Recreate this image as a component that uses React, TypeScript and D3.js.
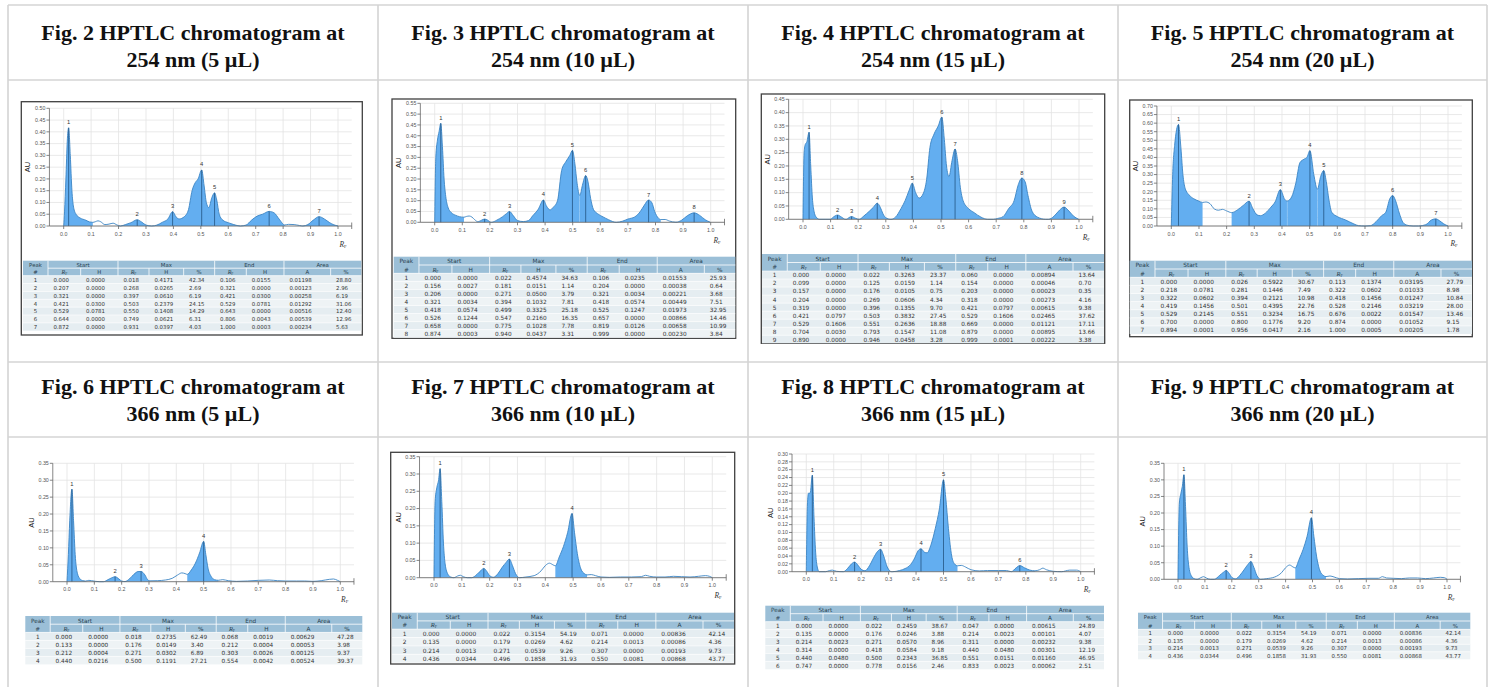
import React from 'react';
import * as d3 from 'd3';

type Pt = [number, number];

// ---------- titles ----------
const titles = [
  ['Fig. 2 HPTLC chromatogram at', '254 nm (5 µL)'],
  ['Fig. 3 HPTLC chromatogram at', '254 nm (10 µL)'],
  ['Fig. 4 HPTLC chromatogram at', '254 nm (15 µL)'],
  ['Fig. 5 HPTLC chromatogram at', '254 nm (20 µL)'],
  ['Fig. 6 HPTLC chromatogram at', '366 nm (5 µL)'],
  ['Fig. 7 HPTLC chromatogram at', '366 nm (10 µL)'],
  ['Fig. 8 HPTLC chromatogram at', '366 nm (15 µL)'],
  ['Fig. 9 HPTLC chromatogram at', '366 nm (20 µL)'],
];

// ---------- y-axis ranges ----------
const yMaxes = [0.5, 0.55, 0.45, 0.7, 0.35, 0.35, 0.3, 0.35];
const ySteps = [0.05, 0.05, 0.05, 0.05, 0.05, 0.05, 0.02, 0.05];

// ---------- densitogram traces [Rf, AU] ----------
const fig2Curve: Pt[] = [[0,0],[0.003,0.06],[0.008,0.2],[0.013,0.36],[0.018,0.4171],[0.024,0.3],[0.03,0.15],[0.036,0.08],[0.045,0.05],[0.06,0.034],[0.08,0.025],[0.095,0.017],[0.106,0.0155],[0.115,0.018],[0.125,0.022],[0.135,0.018],[0.15,0.006],[0.165,0.008],[0.18,0.012],[0.195,0.004],[0.207,0.0],[0.225,0.006],[0.245,0.014],[0.268,0.0265],[0.285,0.016],[0.3,0.004],[0.321,0.0],[0.34,0.004],[0.36,0.016],[0.38,0.03],[0.397,0.061],[0.41,0.038],[0.421,0.03],[0.44,0.04],[0.455,0.07],[0.468,0.15],[0.48,0.185],[0.49,0.2],[0.503,0.2379],[0.512,0.17],[0.52,0.1],[0.529,0.0781],[0.54,0.12],[0.55,0.1408],[0.558,0.11],[0.567,0.05],[0.58,0.025],[0.6,0.014],[0.62,0.006],[0.644,0.0],[0.665,0.004],[0.685,0.025],[0.705,0.042],[0.725,0.05],[0.749,0.0621],[0.768,0.055],[0.785,0.03],[0.806,0.0043],[0.82,0.007],[0.84,0.006],[0.86,0.002],[0.872,0.0],[0.89,0.006],[0.91,0.025],[0.931,0.0397],[0.95,0.03],[0.97,0.014],[0.985,0.005],[1.0,0.0003]];

const fig3Curve: Pt[] = [[0,0],[0.004,0.3],[0.01,0.38],[0.016,0.42],[0.022,0.4574],[0.028,0.35],[0.034,0.2],[0.04,0.12],[0.048,0.07],[0.06,0.045],[0.075,0.033],[0.09,0.026],[0.106,0.0235],[0.115,0.027],[0.125,0.029],[0.135,0.024],[0.145,0.012],[0.156,0.0027],[0.17,0.01],[0.181,0.0151],[0.192,0.01],[0.204,0.0],[0.206,0.0],[0.225,0.01],[0.245,0.025],[0.26,0.04],[0.271,0.05],[0.285,0.03],[0.3,0.008],[0.321,0.0034],[0.34,0.008],[0.355,0.03],[0.375,0.06],[0.394,0.1032],[0.405,0.075],[0.418,0.0574],[0.43,0.07],[0.445,0.1],[0.46,0.24],[0.475,0.28],[0.49,0.31],[0.499,0.3325],[0.508,0.27],[0.516,0.18],[0.525,0.1247],[0.526,0.1244],[0.535,0.17],[0.547,0.216],[0.555,0.19],[0.565,0.11],[0.575,0.06],[0.59,0.04],[0.61,0.025],[0.63,0.012],[0.657,0.0],[0.658,0.0],[0.68,0.005],[0.7,0.015],[0.725,0.025],[0.745,0.05],[0.76,0.08],[0.775,0.1028],[0.787,0.09],[0.797,0.05],[0.81,0.02],[0.819,0.0126],[0.835,0.013],[0.85,0.006],[0.874,0.0003],[0.895,0.01],[0.915,0.03],[0.94,0.0437],[0.96,0.032],[0.98,0.012],[0.999,0.0]];

const fig4Curve: Pt[] = [[0,0],[0.004,0.25],[0.008,0.28],[0.014,0.29],[0.022,0.3263],[0.028,0.2],[0.034,0.08],[0.04,0.03],[0.048,0.008],[0.06,0.0],[0.08,0.0],[0.099,0.0],[0.112,0.01],[0.125,0.0159],[0.14,0.008],[0.154,0.0],[0.157,0.0],[0.166,0.006],[0.176,0.0105],[0.19,0.004],[0.203,0.0],[0.204,0.0],[0.22,0.012],[0.24,0.03],[0.255,0.045],[0.269,0.0606],[0.28,0.045],[0.29,0.02],[0.3,0.006],[0.318,0.0],[0.319,0.0],[0.335,0.008],[0.355,0.04],[0.37,0.07],[0.385,0.11],[0.396,0.1355],[0.408,0.1],[0.421,0.0797],[0.435,0.095],[0.448,0.15],[0.46,0.27],[0.475,0.32],[0.49,0.35],[0.503,0.3832],[0.512,0.3],[0.52,0.2],[0.529,0.1606],[0.54,0.22],[0.551,0.2636],[0.56,0.22],[0.57,0.12],[0.58,0.07],[0.6,0.04],[0.62,0.025],[0.645,0.008],[0.669,0.0],[0.69,0.0],[0.704,0.003],[0.725,0.01],[0.745,0.04],[0.765,0.07],[0.78,0.13],[0.793,0.1547],[0.805,0.14],[0.815,0.09],[0.83,0.03],[0.85,0.008],[0.879,0.0],[0.89,0.0],[0.91,0.012],[0.93,0.035],[0.946,0.0458],[0.96,0.035],[0.98,0.012],[0.999,0.0001]];

const fig5Curve: Pt[] = [[0,0],[0.005,0.3],[0.012,0.47],[0.026,0.5922],[0.035,0.45],[0.042,0.3],[0.05,0.22],[0.065,0.18],[0.08,0.16],[0.1,0.145],[0.113,0.1374],[0.125,0.14],[0.14,0.13],[0.155,0.1],[0.17,0.092],[0.185,0.097],[0.2,0.088],[0.218,0.0781],[0.24,0.095],[0.26,0.12],[0.281,0.1446],[0.295,0.1],[0.31,0.065],[0.322,0.0602],[0.34,0.075],[0.36,0.11],[0.375,0.14],[0.394,0.2121],[0.41,0.155],[0.419,0.1456],[0.435,0.17],[0.45,0.25],[0.465,0.37],[0.48,0.39],[0.49,0.4],[0.501,0.4395],[0.515,0.3],[0.528,0.2146],[0.54,0.29],[0.551,0.3234],[0.56,0.26],[0.57,0.15],[0.58,0.08],[0.6,0.055],[0.63,0.035],[0.66,0.012],[0.676,0.0022],[0.7,0.0],[0.72,0.002],[0.74,0.025],[0.76,0.06],[0.775,0.08],[0.79,0.16],[0.8,0.1776],[0.81,0.15],[0.825,0.07],[0.84,0.015],[0.86,0.002],[0.874,0.0],[0.894,0.0001],[0.92,0.008],[0.94,0.035],[0.956,0.0417],[0.97,0.03],[0.985,0.012],[1.0,0.0005]];

const fig6Curve: Pt[] = [[0,0],[0.005,0.08],[0.01,0.18],[0.018,0.2735],[0.024,0.18],[0.03,0.08],[0.038,0.025],[0.048,0.008],[0.058,0.003],[0.068,0.0019],[0.08,0.004],[0.09,0.003],[0.105,0.001],[0.12,0.0],[0.133,0.0],[0.15,0.006],[0.165,0.012],[0.176,0.0149],[0.19,0.008],[0.2,0.002],[0.212,0.0004],[0.228,0.008],[0.245,0.022],[0.26,0.03],[0.271,0.0302],[0.285,0.02],[0.295,0.006],[0.303,0.0026],[0.33,0.003],[0.36,0.005],[0.385,0.01],[0.405,0.02],[0.42,0.026],[0.432,0.024],[0.44,0.0216],[0.455,0.035],[0.47,0.055],[0.485,0.085],[0.5,0.1191],[0.508,0.08],[0.516,0.04],[0.528,0.015],[0.54,0.006],[0.554,0.0042],[0.57,0.006],[0.59,0.003],[0.62,0.001],[0.66,0.002],[0.7,0.004],[0.74,0.005],[0.77,0.003],[0.8,0.002],[0.84,0.002],[0.87,0.002],[0.9,0.001],[0.93,0.003],[0.96,0.007],[0.975,0.008],[0.99,0.004],[1.0,0.0]];

const fig7Curve: Pt[] = [[0,0],[0.004,0.22],[0.01,0.26],[0.016,0.28],[0.022,0.3154],[0.028,0.22],[0.034,0.1],[0.04,0.04],[0.05,0.01],[0.06,0.002],[0.071,0.0],[0.085,0.005],[0.095,0.007],[0.105,0.003],[0.12,0.0],[0.135,0.0],[0.155,0.01],[0.17,0.022],[0.179,0.0269],[0.19,0.018],[0.2,0.006],[0.214,0.0013],[0.23,0.012],[0.245,0.03],[0.26,0.045],[0.271,0.0539],[0.282,0.035],[0.293,0.012],[0.307,0.0],[0.33,0.002],[0.36,0.006],[0.385,0.02],[0.4,0.035],[0.415,0.042],[0.428,0.037],[0.436,0.0344],[0.45,0.06],[0.465,0.09],[0.48,0.13],[0.496,0.1858],[0.505,0.13],[0.515,0.07],[0.528,0.025],[0.54,0.012],[0.55,0.0081],[0.565,0.009],[0.58,0.006],[0.6,0.002],[0.63,0.001],[0.67,0.002],[0.71,0.002],[0.745,0.003],[0.76,0.007],[0.775,0.004],[0.8,0.002],[0.83,0.002],[0.86,0.004],[0.89,0.003],[0.92,0.002],[0.95,0.004],[0.975,0.006],[0.99,0.004],[1.0,0.0]];

const fig8Curve: Pt[] = [[0,0],[0.004,0.17],[0.008,0.2],[0.014,0.2],[0.022,0.2459],[0.028,0.14],[0.034,0.05],[0.04,0.012],[0.047,0.0],[0.07,0.0],[0.085,0.003],[0.095,0.004],[0.11,0.001],[0.135,0.0],[0.15,0.008],[0.165,0.02],[0.176,0.0246],[0.19,0.015],[0.2,0.006],[0.214,0.0023],[0.23,0.015],[0.245,0.035],[0.26,0.052],[0.271,0.057],[0.282,0.04],[0.295,0.012],[0.311,0.0],[0.314,0.0],[0.34,0.003],[0.36,0.008],[0.38,0.018],[0.395,0.035],[0.408,0.054],[0.418,0.0584],[0.43,0.05],[0.44,0.048],[0.455,0.07],[0.47,0.11],[0.485,0.16],[0.5,0.2343],[0.508,0.19],[0.518,0.11],[0.53,0.04],[0.54,0.02],[0.551,0.0151],[0.565,0.016],[0.58,0.012],[0.6,0.005],[0.63,0.002],[0.66,0.003],[0.7,0.003],[0.73,0.003],[0.747,0.0],[0.765,0.01],[0.778,0.0156],[0.795,0.01],[0.815,0.004],[0.833,0.0023],[0.85,0.005],[0.862,0.009],[0.875,0.005],[0.9,0.001],[0.93,0.0],[0.96,0.004],[0.985,0.004],[1.0,0.0]];

const fig9Curve: Pt[] = [[0,0],[0.005,0.23],[0.011,0.26],[0.016,0.28],[0.022,0.3154],[0.028,0.22],[0.034,0.1],[0.041,0.035],[0.05,0.01],[0.06,0.002],[0.071,0.0],[0.085,0.005],[0.095,0.008],[0.105,0.004],[0.12,0.0],[0.135,0.0],[0.155,0.012],[0.17,0.022],[0.179,0.0269],[0.19,0.018],[0.2,0.006],[0.214,0.0013],[0.23,0.012],[0.245,0.028],[0.26,0.045],[0.271,0.0539],[0.282,0.036],[0.293,0.012],[0.307,0.0],[0.33,0.002],[0.36,0.007],[0.385,0.02],[0.4,0.035],[0.415,0.043],[0.428,0.037],[0.436,0.0344],[0.45,0.06],[0.465,0.09],[0.48,0.13],[0.496,0.1858],[0.505,0.13],[0.515,0.07],[0.528,0.025],[0.54,0.012],[0.55,0.0081],[0.565,0.01],[0.58,0.007],[0.6,0.002],[0.63,0.001],[0.67,0.002],[0.71,0.003],[0.745,0.003],[0.76,0.008],[0.775,0.004],[0.8,0.003],[0.83,0.002],[0.86,0.004],[0.89,0.004],[0.92,0.002],[0.95,0.004],[0.975,0.006],[0.99,0.005],[1.0,0.0]];

// ---------- peak tables: #, start Rf, start H, max Rf, max H, max %, end Rf, end H, area A, area % ----------
const fig2Peaks = [
  ['1','0.000','0.0000','0.018','0.4171','42.34','0.106','0.0155','0.01198','28.80'],
  ['2','0.207','0.0000','0.268','0.0265','2.69','0.321','0.0000','0.00123','2.96'],
  ['3','0.321','0.0000','0.397','0.0610','6.19','0.421','0.0300','0.00258','6.19'],
  ['4','0.421','0.0300','0.503','0.2379','24.15','0.529','0.0781','0.01292','31.06'],
  ['5','0.529','0.0781','0.550','0.1408','14.29','0.643','0.0000','0.00516','12.40'],
  ['6','0.644','0.0000','0.749','0.0621','6.31','0.806','0.0043','0.00539','12.96'],
  ['7','0.872','0.0000','0.931','0.0397','4.03','1.000','0.0003','0.00234','5.63'],
];
const fig3Peaks = [
  ['1','0.000','0.0000','0.022','0.4574','34.63','0.106','0.0235','0.01553','25.93'],
  ['2','0.156','0.0027','0.181','0.0151','1.14','0.204','0.0000','0.00038','0.64'],
  ['3','0.206','0.0000','0.271','0.0500','3.79','0.321','0.0034','0.00221','3.68'],
  ['4','0.321','0.0034','0.394','0.1032','7.81','0.418','0.0574','0.00449','7.51'],
  ['5','0.418','0.0574','0.499','0.3325','25.18','0.525','0.1247','0.01973','32.95'],
  ['6','0.526','0.1244','0.547','0.2160','16.35','0.657','0.0000','0.00866','14.46'],
  ['7','0.658','0.0000','0.775','0.1028','7.78','0.819','0.0126','0.00658','10.99'],
  ['8','0.874','0.0003','0.940','0.0437','3.31','0.999','0.0000','0.00230','3.84'],
];
const fig4Peaks = [
  ['1','0.000','0.0000','0.022','0.3263','23.37','0.060','0.0000','0.00894','13.64'],
  ['2','0.099','0.0000','0.125','0.0159','1.14','0.154','0.0000','0.00046','0.70'],
  ['3','0.157','0.0000','0.176','0.0105','0.75','0.203','0.0000','0.00023','0.35'],
  ['4','0.204','0.0000','0.269','0.0606','4.34','0.318','0.0000','0.00273','4.16'],
  ['5','0.319','0.0000','0.396','0.1355','9.70','0.421','0.0797','0.00615','9.38'],
  ['6','0.421','0.0797','0.503','0.3832','27.45','0.529','0.1606','0.02465','37.62'],
  ['7','0.529','0.1606','0.551','0.2636','18.88','0.669','0.0000','0.01121','17.11'],
  ['8','0.704','0.0030','0.793','0.1547','11.08','0.879','0.0000','0.00895','13.66'],
  ['9','0.890','0.0000','0.946','0.0458','3.28','0.999','0.0001','0.00222','3.38'],
];
const fig5Peaks = [
  ['1','0.000','0.0000','0.026','0.5922','30.67','0.113','0.1374','0.03195','27.79'],
  ['2','0.218','0.0781','0.281','0.1446','7.49','0.322','0.0602','0.01033','8.98'],
  ['3','0.322','0.0602','0.394','0.2121','10.98','0.418','0.1456','0.01247','10.84'],
  ['4','0.419','0.1456','0.501','0.4395','22.76','0.528','0.2146','0.03219','28.00'],
  ['5','0.529','0.2145','0.551','0.3234','16.75','0.676','0.0022','0.01547','13.46'],
  ['6','0.700','0.0000','0.800','0.1776','9.20','0.874','0.0000','0.01052','9.15'],
  ['7','0.894','0.0001','0.956','0.0417','2.16','1.000','0.0005','0.00205','1.78'],
];
const fig6Peaks = [
  ['1','0.000','0.0000','0.018','0.2735','62.49','0.068','0.0019','0.00629','47.28'],
  ['2','0.133','0.0000','0.176','0.0149','3.40','0.212','0.0004','0.00053','3.98'],
  ['3','0.212','0.0004','0.271','0.0302','6.89','0.303','0.0026','0.00125','9.37'],
  ['4','0.440','0.0216','0.500','0.1191','27.21','0.554','0.0042','0.00524','39.37'],
];
const fig7Peaks = [
  ['1','0.000','0.0000','0.022','0.3154','54.19','0.071','0.0000','0.00836','42.14'],
  ['2','0.135','0.0000','0.179','0.0269','4.62','0.214','0.0013','0.00086','4.36'],
  ['3','0.214','0.0013','0.271','0.0539','9.26','0.307','0.0000','0.00193','9.73'],
  ['4','0.436','0.0344','0.496','0.1858','31.93','0.550','0.0081','0.00868','43.77'],
];
const fig8Peaks = [
  ['1','0.000','0.0000','0.022','0.2459','38.67','0.047','0.0000','0.00615','24.89'],
  ['2','0.135','0.0000','0.176','0.0246','3.88','0.214','0.0023','0.00101','4.07'],
  ['3','0.214','0.0023','0.271','0.0570','8.96','0.311','0.0000','0.00232','9.38'],
  ['4','0.314','0.0000','0.418','0.0584','9.18','0.440','0.0480','0.00301','12.19'],
  ['5','0.440','0.0480','0.500','0.2343','36.85','0.551','0.0151','0.01160','46.95'],
  ['6','0.747','0.0000','0.778','0.0156','2.46','0.833','0.0023','0.00062','2.51'],
];
const fig9Peaks = [
  ['1','0.000','0.0000','0.022','0.3154','54.19','0.071','0.0000','0.00836','42.14'],
  ['2','0.135','0.0000','0.179','0.0269','4.62','0.214','0.0013','0.00086','4.36'],
  ['3','0.214','0.0013','0.271','0.0539','9.26','0.307','0.0000','0.00193','9.73'],
  ['4','0.436','0.0344','0.496','0.1858','31.93','0.550','0.0081','0.00868','43.77'],
];

const curves = [fig2Curve, fig3Curve, fig4Curve, fig5Curve, fig6Curve, fig7Curve, fig8Curve, fig9Curve];
const peakTables = [fig2Peaks, fig3Peaks, fig4Peaks, fig5Peaks, fig6Peaks, fig7Peaks, fig8Peaks, fig9Peaks];

const groupHeads = ['Peak', 'Start', 'Max', 'End', 'Area'];
const subHeads = ['#', 'RF', 'H', 'RF', 'H', '%', 'RF', 'H', 'A', '%'];

// ---------- layout ----------
const colX = [8, 378, 748, 1118, 1487];
const rowY = [5, 80, 362, 437, 700];
const colW = [75, 98, 112, 93, 104, 93, 95, 113, 140, 92];
const groupCols = [[0, 1], [1, 3], [3, 6], [6, 8], [8, 10]];

// frame: [x, y, w, h] or null; plot: Rf 0 / Rf 1 px, top / zero px; table: x, y, w, header row h, data row h
const geoms = [
  { frame: [21.3, 101.7, 341, 233.3], x0: 63.7, x1: 338, yTop: 108.3, y0: 226, table: [23, 260.7, 338.3, 7.5, 7.86], rf: [343, 247] },
  { frame: [392, 99, 343.7, 239.3], x0: 434.7, x1: 710.7, yTop: 103.3, y0: 222.3, table: [393.7, 256.7, 341.6, 8.3, 8.05], rf: [717, 243.3] },
  { frame: [761.3, 94, 343.4, 249.3], x0: 803, x1: 1079, yTop: 99.3, y0: 219.3, table: [762, 254, 342, 8.5, 8.03], rf: [1086.3, 240] },
  { frame: [1129.7, 100, 342.6, 236.7], x0: 1171.3, x1: 1448, yTop: 106, y0: 226, table: [1129.7, 260.7, 342.3, 8.3, 8.1], rf: [1454, 245.7] },
  { frame: null, x0: 67, x1: 340.3, yTop: 463.3, y0: 581.7, table: [25.3, 616, 337, 8.2, 8], rf: [344.7, 601.7] },
  { frame: [390.7, 452.3, 344, 211.7], x0: 434, x1: 712.3, yTop: 456.7, y0: 577.7, table: [392, 612.7, 342, 8.2, 8.4], rf: [718, 598.3] },
  { frame: null, x0: 806.3, x1: 1080.7, yTop: 454, y0: 571.7, table: [765.3, 605.7, 338.7, 8, 7.93], rf: [1087.3, 591.7] },
  { frame: null, x0: 1178, x1: 1447, yTop: 463.3, y0: 579.3, table: [1138, 612.7, 332.3, 8.3, 7.5], rf: [1451.3, 600] },
];

const FILL = '#63aef0';
const LINE = '#3b84c4';
const SANS = 'Liberation Sans, Arial, sans-serif';
const TABLE_FONT = 'DejaVu Sans, Verdana, sans-serif';

function RfText({ x, y, size, anchor, fill }: any) {
  return (
    <text x={x} y={y} fontSize={size} fill={fill} textAnchor={anchor} fontFamily="Liberation Serif, serif">
      <tspan fontStyle="italic">R</tspan>
      <tspan fontSize={size * 0.62} dy={size * 0.15}>F</tspan>
    </text>
  );
}

function PeakTable({ rows, t }: any) {
  const [tx, ty, tw, hh, rh] = t;
  const total = d3.sum(colW);
  const cum = d3.cumsum(colW);
  const cx = (i: number) => tx + (tw * (i === 0 ? 0 : cum[i - 1])) / total;
  const fs = Math.min(hh, rh) * 0.72;
  const pad = tw * 0.016;
  const dataTop = ty + 2 * hh;
  return (
    <g fontFamily={TABLE_FONT}>
      <rect x={tx} y={ty} width={tw} height={2 * hh} fill="#9bbfd7" />
      {rows.map((_: any, i: number) => (
        <rect key={i} x={tx} y={dataTop + i * rh} width={tw} height={rh} fill={i % 2 ? '#eef3f5' : '#e5edf1'} />
      ))}
      {/* header separators */}
      <line x1={cx(1)} x2={tx + tw} y1={ty + hh} y2={ty + hh} stroke="#fff" strokeWidth={0.8} />
      {[1, 3, 6, 8].map(i => (
        <line key={'g' + i} x1={cx(i)} x2={cx(i)} y1={ty} y2={ty + 2 * hh} stroke="#fff" strokeWidth={0.8} />
      ))}
      {[2, 4, 5, 7, 9].map(i => (
        <line key={'s' + i} x1={cx(i)} x2={cx(i)} y1={ty + hh} y2={ty + 2 * hh} stroke="#fff" strokeWidth={0.8} />
      ))}
      {rows.map((_: any, i: number) => (
        <line key={'r' + i} x1={tx} x2={tx + tw} y1={dataTop + i * rh} y2={dataTop + i * rh} stroke="#fff" strokeWidth={0.6} />
      ))}
      {groupHeads.map((g, i) => (
        <text key={'gh' + i} x={(cx(groupCols[i][0]) + cx(groupCols[i][1])) / 2} y={ty + hh * 0.8}
          fontSize={fs} fill="#2a3f50" textAnchor="middle">{g}</text>
      ))}
      {subHeads.map((s, i) =>
        s === 'RF' ? (
          <RfText key={'sh' + i} x={(cx(i) + cx(i + 1)) / 2} y={ty + hh * 1.8} size={fs * 1.1} anchor="middle" fill="#2a3f50" />
        ) : (
          <text key={'sh' + i} x={(cx(i) + cx(i + 1)) / 2} y={ty + hh * 1.8} fontSize={fs} fill="#2a3f50" textAnchor="middle">{s}</text>
        )
      )}
      {rows.map((r: string[], i: number) =>
        r.map((v, j) => (
          <text key={i + '-' + j} x={j === 0 ? (cx(0) + cx(1)) / 2 : cx(j) + pad} y={dataTop + i * rh + rh * 0.8}
            fontSize={fs} fill="#333" textAnchor={j === 0 ? 'middle' : 'start'}>{v}</text>
        ))
      )}
    </g>
  );
}

function Chromatogram({ idx }: { idx: number }) {
  const g = geoms[idx];
  const curve = curves[idx];
  const peaks = peakTables[idx];
  const yMax = yMaxes[idx];
  const yStep = ySteps[idx];
  const x = d3.scaleLinear().domain([0, 1]).range([g.x0, g.x1]);
  const y = d3.scaleLinear().domain([0, yMax]).range([g.y0, g.yTop]);
  const xl = x(-0.052);
  const xr = x(1.05);
  const yTicks = d3.range(0, Math.round(yMax / yStep) + 1).map(i => +(i * yStep).toFixed(3));
  const xTicks = x.ticks(10);
  const line = d3.line<Pt>().x(d => x(d[0])).y(d => y(d[1])).curve(d3.curveMonotoneX);
  const area = d3.area<Pt>().x(d => x(d[0])).y0(y(0)).y1(d => y(d[1])).curve(d3.curveMonotoneX);
  const clipId = 'peakclip' + idx;
  const fmtY = d3.format('.2f');
  const fmtX = d3.format('.1f');
  return (
    <g>
      {g.frame && (
        <rect x={g.frame[0]} y={g.frame[1]} width={g.frame[2]} height={g.frame[3]} fill="#fff" stroke="#3f3f3f" strokeWidth={1.3} />
      )}
      {/* grid */}
      {yTicks.map(t => (
        <line key={'hy' + t} x1={xl} x2={xr} y1={y(t)} y2={y(t)} stroke="#e3e3e3" strokeWidth={0.8} />
      ))}
      {xTicks.map(t => (
        <line key={'vx' + t} x1={x(t)} x2={x(t)} y1={g.yTop} y2={g.y0} stroke="#e3e3e3" strokeWidth={0.8} />
      ))}
      <defs>
        <clipPath id={clipId}>
          {peaks.map(p => (
            <rect key={p[0]} x={x(+p[1])} y={g.yTop - 20} width={x(+p[6]) - x(+p[1])} height={g.y0 - g.yTop + 20} />
          ))}
        </clipPath>
      </defs>
      <path d={area(curve) || ''} fill={FILL} clipPath={`url(#${clipId})`} />
      <path d={line(curve) || ''} fill="none" stroke={LINE} strokeWidth={0.9} />
      {peaks.map(p => (
        <g key={'pk' + p[0]}>
          <line x1={x(+p[3])} x2={x(+p[3])} y1={y(0)} y2={y(+p[4])} stroke="#2a5f8e" strokeWidth={0.9} />
          <text x={x(+p[3])} y={y(+p[4]) - 3.5} fontSize={5.8} fontFamily={SANS} fill="#333" textAnchor="middle">{p[0]}</text>
        </g>
      ))}
      {/* axes */}
      <line x1={xl} x2={xl} y1={g.yTop} y2={g.y0} stroke="#666" strokeWidth={0.8} />
      <line x1={xl} x2={xr} y1={g.y0} y2={g.y0} stroke="#666" strokeWidth={0.8} />
      <line x1={xr} x2={xr} y1={g.y0 - 3.5} y2={g.y0 + 3} stroke="#666" strokeWidth={0.8} />
      {yTicks.map(t => (
        <g key={'yt' + t}>
          <line x1={xl - 3} x2={xl} y1={y(t)} y2={y(t)} stroke="#666" strokeWidth={0.8} />
          <text x={xl - 4} y={y(t) + 1.8} fontSize={5.3} fontFamily={SANS} fill="#555" textAnchor="end">{fmtY(t)}</text>
        </g>
      ))}
      {xTicks.map(t => (
        <g key={'xt' + t}>
          <line x1={x(t)} x2={x(t)} y1={g.y0} y2={g.y0 + 3} stroke="#666" strokeWidth={0.8} />
          <text x={x(t)} y={g.y0 + 9.5} fontSize={5.3} fontFamily={SANS} fill="#555" textAnchor="middle">{fmtX(t)}</text>
        </g>
      ))}
      <text transform={`translate(${xl - 19},${(g.yTop + g.y0) / 2}) rotate(-90)`} fontSize={7.5} fontFamily={SANS} fill="#222" textAnchor="middle">AU</text>
      <RfText x={g.rf[0]} y={g.rf[1]} size={7.5} anchor="middle" fill="#333" />
      <PeakTable rows={peaks} t={g.table} />
    </g>
  );
}

export default function App() {
  return (
    <svg width={1494} height={687} style={{ position: 'absolute', left: 0, top: 0, background: '#fff' }}>
      <rect x={0} y={0} width={1494} height={687} fill="#fff" />
      {/* page table grid */}
      {rowY.slice(0, 4).map(r => (
        <line key={'row' + r} x1={colX[0]} x2={colX[4]} y1={r} y2={r} stroke="#d4d4d4" strokeWidth={1.6} />
      ))}
      {colX.map(c => (
        <line key={'col' + c} x1={c} x2={c} y1={rowY[0]} y2={rowY[4]} stroke="#d4d4d4" strokeWidth={1.6} />
      ))}
      {titles.map((t, i) => {
        const col = i % 4;
        const row = i < 4 ? 0 : 2;
        const cx = (colX[col] + colX[col + 1]) / 2;
        const base = rowY[row] + (row === 0 ? 34.5 : 31.5);
        return (
          <text key={'t' + i} x={cx} fontSize={22} fontWeight="bold" fontFamily="Liberation Serif, Times New Roman, serif" fill="#111" textAnchor="middle">
            <tspan x={cx} y={base}>{t[0]}</tspan>
            <tspan x={cx} y={base + 27}>{t[1]}</tspan>
          </text>
        );
      })}
      {geoms.map((_, i) => <Chromatogram key={i} idx={i} />)}
    </svg>
  );
}
